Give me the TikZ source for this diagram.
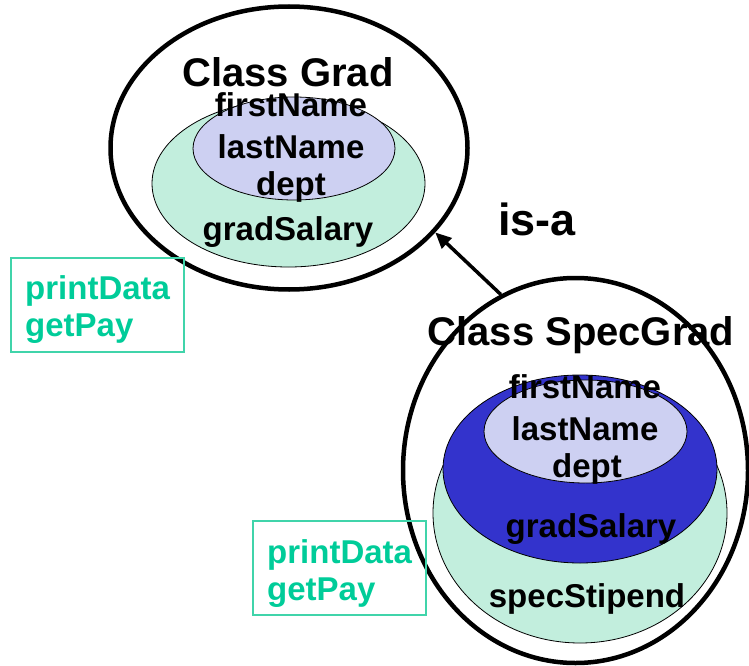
\documentclass[tikz,border=0pt]{standalone}
\usepackage{fontspec}
\setmainfont{Liberation Sans}
\usetikzlibrary{shapes.geometric,arrows.meta}
\definecolor{mint}{HTML}{C2EEDD}
\definecolor{lav}{HTML}{CDD0F2}
\definecolor{royal}{HTML}{3333CC}
\definecolor{teal}{HTML}{00CC99}
\definecolor{tealline}{HTML}{40D4AA}
\tikzset{
  outerell/.style={ellipse, draw=black, line width=4.5pt, inner sep=0pt},
  innerell/.style={ellipse, draw=black, line width=0.8pt, inner sep=0pt},
  big/.style={inner sep=0pt, anchor=base, font=\fontsize{40}{44}\selectfont\bfseries},
  attr/.style={inner sep=0pt, anchor=base, font=\fontsize{33}{36}\selectfont\bfseries},
  meth/.style={inner sep=0pt, anchor=base west, text=teal, font=\fontsize{33}{36}\selectfont\bfseries},
  methbox/.style={draw=tealline, line width=1.3pt, minimum width=173pt, minimum height=94pt, inner sep=0pt}
}
\begin{document}
\begin{tikzpicture}[x=1pt,y=-1pt]
\useasboundingbox (0,0) rectangle (749,666);
% Class Grad
\node[outerell, minimum width=357pt, minimum height=283pt] (gout) at (289,148) {};
\node[innerell, fill=mint, minimum width=273pt, minimum height=167pt] (ggreen) at (288.5,183.5) {};
\node[innerell, fill=lav, minimum width=202pt, minimum height=103pt] (gin) at (294,148.5) {};
\node[big] (gtitle) at (288,87) {Class Grad};
\node[attr] (gf) at (291,117) {firstName};
\node[attr] (gl) at (291,158) {lastName};
\node[attr] (gd) at (291,195) {dept};
\node[attr] (gs) at (288,240) {gradSalary};
% box 1
\node[methbox] (box1) at (97.5,305) {};
\node[meth] (p1) at (25,299) {printData};
\node[meth] (g1) at (25,336) {getPay};
% Class SpecGrad
\node[outerell, minimum width=345pt, minimum height=385pt] (sout) at (575.5,470.5) {};
\node[innerell, fill=mint, minimum width=294pt, minimum height=260pt] (sgreen) at (580,513) {};
\node[innerell, fill=royal, minimum width=274pt, minimum height=188pt] (sblue) at (580,469) {};
\node[innerell, fill=lav, minimum width=203pt, minimum height=103pt] (sin) at (585.5,431.5) {};
\node[big] (stitle) at (581,345) {Class SpecGrad};
\node[attr] (sf) at (585,398) {firstName};
\node[attr] (sl) at (585,440) {lastName};
\node[attr] (sd) at (587,477) {dept};
\node[attr] (ss) at (591,537) {gradSalary};
\node[attr] (sp) at (587,607) {specStipend};
% box 2
\node[methbox] (box2) at (339.5,568) {};
\node[meth] (p2) at (267,563) {printData};
\node[meth] (g2) at (267,600) {getPay};
% is-a
\node[inner sep=0pt, anchor=base, font=\fontsize{45}{48}\selectfont\bfseries] (isa) at (537,235) {is-a};
\draw[line width=3.5pt, -{Triangle[length=16pt,width=14pt]}] (sout.113) -- (gout.-30);
\end{tikzpicture}
\end{document}
